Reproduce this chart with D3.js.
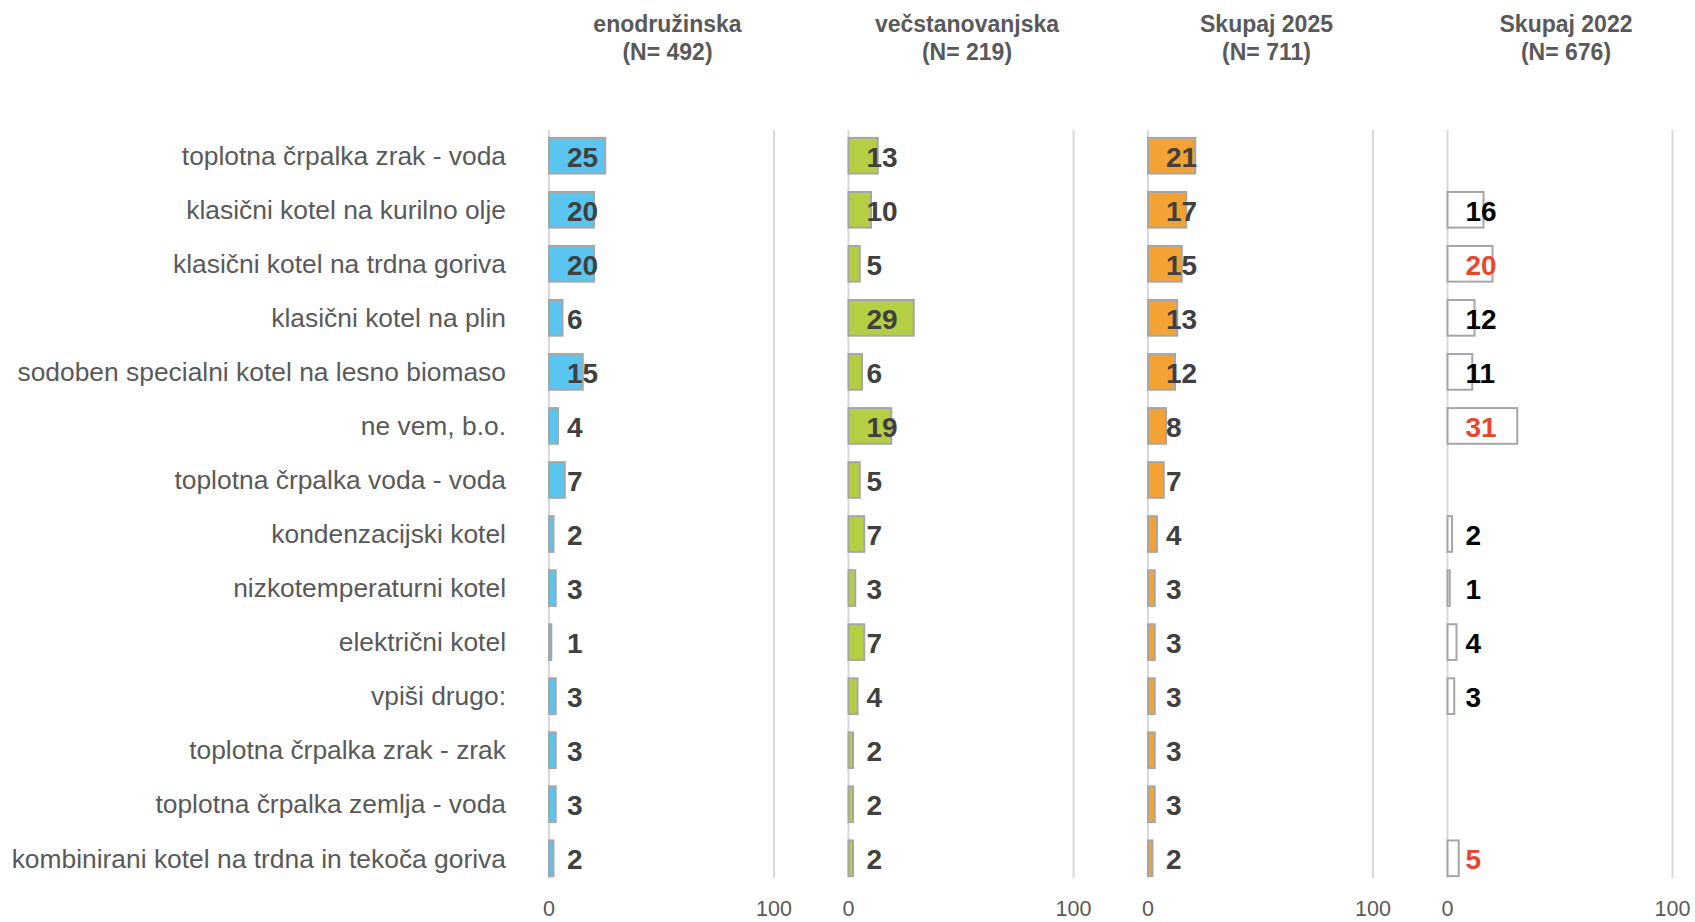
<!DOCTYPE html>
<meta charset="utf-8">
<style>
body { margin: 0; background: #fff; }
text { font-family: "Liberation Sans", Arial, sans-serif; }
.cat { font-size: 26.4px; fill: #595959; text-anchor: end; }
.head { font-size: 23px; font-weight: bold; fill: #595959; text-anchor: middle; }
.tick { font-size: 21.5px; fill: #595959; text-anchor: middle; }
.val { font-size: 28px; font-weight: bold; }
</style>
<svg width="1695" height="922"></svg>
<script src="https://cdn.jsdelivr.net/npm/d3@7"></script>
<script>

var categories = [
  "toplotna črpalka zrak - voda",
  "klasični kotel na kurilno olje",
  "klasični kotel na trdna goriva",
  "klasični kotel na plin",
  "sodoben specialni kotel na lesno biomaso",
  "ne vem, b.o.",
  "toplotna črpalka voda - voda",
  "kondenzacijski kotel",
  "nizkotemperaturni kotel",
  "električni kotel",
  "vpiši drugo:",
  "toplotna črpalka zrak - zrak",
  "toplotna črpalka zemlja - voda",
  "kombinirani kotel na trdna in tekoča goriva"
];

var enodruzinska = [25, 20, 20, 6, 15, 4, 7, 2, 3, 1, 3, 3, 3, 2];
var vecstanovanjska = [13, 10, 5, 29, 6, 19, 5, 7, 3, 7, 4, 2, 2, 2];
var skupaj2025 = [21, 17, 15, 13, 12, 8, 7, 4, 3, 3, 3, 3, 3, 2];
var skupaj2022 = [null, 16, 20, 12, 11, 31, null, 2, 1, 4, 3, null, null, 5];
// rows where the 2022 value is shown in red
var highlight2022 = [false, false, true, false, false, true, false, false, false, false, false, false, false, true];

var headers = [
  ["enodružinska", "(N= 492)"],
  ["večstanovanjska", "(N= 219)"],
  ["Skupaj 2025", "(N= 711)"],
  ["Skupaj 2022", "(N= 676)"]
];
var tickValues = [0, 100];

var panels = [
  {values: enodruzinska, fill: "#5bc5f2", label: "#404040"},
  {values: vecstanovanjska, fill: "#b5cf44", label: "#404040"},
  {values: skupaj2025, fill: "#f5a234", label: "#404040"},
  {values: skupaj2022, fill: "#ffffff", label: "#000000", red: highlight2022}
];

var svg = d3.select("svg");

var y = d3.scaleBand()
    .domain(categories)
    .range([128.7, 885.3])
    .paddingInner(0.34)
    .paddingOuter(0.17);

var x = d3.scaleLinear().domain([0, 100]).range([0, 225]);

var panelX = d3.scaleLinear().domain([0, 1]).range([549, 848.5]);

// category labels
svg.append("g").selectAll("text")
  .data(categories)
  .enter().append("text")
    .attr("class", "cat")
    .attr("x", 506)
    .attr("y", function(d) { return y(d) + y.bandwidth() / 2; })
    .attr("dy", "0.35em")
    .text(function(d) { return d; });

panels.forEach(function(p, i) {
  var g = svg.append("g").attr("transform", "translate(" + panelX(i) + ",0)");

  // gridlines
  g.selectAll("line.grid")
    .data(tickValues)
    .enter().append("line")
      .attr("x1", function(d) { return x(d); })
      .attr("x2", function(d) { return x(d); })
      .attr("y1", 130)
      .attr("y2", 878)
      .attr("stroke", "#d9d9d9")
      .attr("stroke-width", 2);

  g.selectAll("text.tick")
    .data(tickValues)
    .enter().append("text")
      .attr("class", "tick")
      .attr("x", function(d) { return x(d); })
      .attr("y", 916)
      .text(function(d) { return d; });

  // header
  var h = g.append("text").attr("class", "head")
      .attr("x", x(50) + 6).attr("y", 24).attr("dy", "0.35em");
  h.append("tspan").attr("x", x(50) + 6).text(headers[i][0]);
  h.append("tspan").attr("x", x(50) + 6).attr("dy", 28).text(headers[i][1]);

  var rows = categories.map(function(c, j) {
    return {cat: c, v: p.values[j], red: p.red ? p.red[j] : false};
  }).filter(function(d) { return d.v != null; });

  g.selectAll("rect")
    .data(rows)
    .enter().append("rect")
      .attr("x", x(0))
      .attr("y", function(d) { return y(d.cat); })
      .attr("width", function(d) { return x(d.v); })
      .attr("height", y.bandwidth())
      .attr("fill", p.fill)
      .attr("stroke", "#a6a6a6")
      .attr("stroke-width", 2);

  g.selectAll("text.val")
    .data(rows)
    .enter().append("text")
      .attr("class", "val")
      .attr("x", x(0) + 18)
      .attr("y", function(d) { return y(d.cat) + y.bandwidth() / 2 + 1; })
      .attr("dy", "0.35em")
      .attr("fill", function(d) { return d.red ? "#e8472e" : p.label; })
      .text(function(d) { return d.v; });
});

</script>
